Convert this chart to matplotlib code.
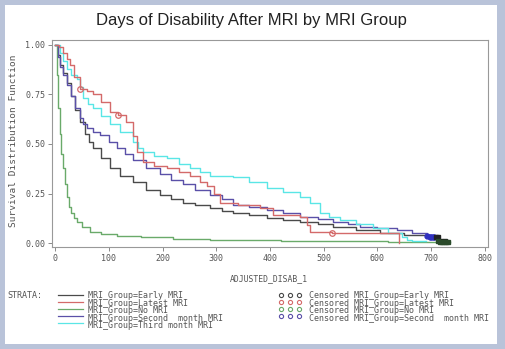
import matplotlib
matplotlib.use("Agg")
import matplotlib.pyplot as plt
from matplotlib.patches import Rectangle
from matplotlib.lines import Line2D

# ---- data ----
early_t = [0, 5, 10, 15, 22, 30, 38, 46, 55, 63, 71, 85, 102, 120, 145, 170, 195, 215, 238, 260, 288, 310, 332, 360, 394, 425, 456, 490, 518, 560, 605, 650, 700, 712]
early_s = [1.0, 0.95, 0.90, 0.86, 0.81, 0.74, 0.67, 0.61, 0.55, 0.51, 0.48, 0.43, 0.38, 0.34, 0.31, 0.27, 0.24, 0.22, 0.20, 0.19, 0.175, 0.16, 0.15, 0.14, 0.125, 0.115, 0.105, 0.095, 0.08, 0.065, 0.05, 0.04, 0.03, 0.03]

latest_t = [0, 8, 15, 22, 28, 36, 46, 60, 71, 85, 102, 117, 133, 145, 152, 164, 185, 208, 230, 251, 270, 282, 295, 307, 340, 381, 406, 456, 468, 474, 515, 560, 605, 636, 640]
latest_s = [1.0, 0.99, 0.96, 0.93, 0.90, 0.84, 0.78, 0.77, 0.75, 0.71, 0.66, 0.645, 0.61, 0.54, 0.46, 0.41, 0.39, 0.38, 0.36, 0.34, 0.31, 0.29, 0.25, 0.20, 0.19, 0.175, 0.14, 0.133, 0.09, 0.057, 0.052, 0.05, 0.05, 0.05, 0.0]

nomri_t = [0, 3, 6, 9, 12, 15, 18, 22, 26, 30, 35, 40, 50, 65, 85, 115, 160, 220, 288, 350, 420, 500, 560, 620, 680, 735]
nomri_s = [1.0, 0.85, 0.68, 0.55, 0.45, 0.38, 0.30, 0.23, 0.18, 0.15, 0.125, 0.106, 0.08, 0.056, 0.045, 0.038, 0.03, 0.022, 0.017, 0.014, 0.012, 0.01, 0.008, 0.006, 0.005, 0.005]

second_t = [0, 5, 10, 15, 22, 30, 38, 46, 52, 59, 70, 84, 100, 115, 130, 145, 170, 195, 215, 238, 260, 288, 310, 332, 360, 394, 425, 456, 490, 518, 545, 567, 600, 636, 665, 692, 705]
second_s = [1.0, 0.94, 0.89, 0.85, 0.80, 0.74, 0.68, 0.63, 0.60, 0.58, 0.56, 0.545, 0.51, 0.48, 0.45, 0.42, 0.38, 0.35, 0.32, 0.30, 0.27, 0.24, 0.22, 0.19, 0.18, 0.167, 0.15, 0.133, 0.12, 0.108, 0.095, 0.082, 0.075, 0.066, 0.05, 0.04, 0.03]

third_t = [0, 9, 15, 22, 30, 40, 46, 53, 62, 71, 85, 102, 120, 145, 155, 164, 185, 208, 230, 251, 270, 288, 310, 332, 360, 394, 425, 456, 475, 493, 510, 530, 560, 592, 620, 645, 654, 665, 690]
third_s = [1.0, 0.96, 0.92, 0.88, 0.85, 0.83, 0.79, 0.73, 0.70, 0.68, 0.64, 0.60, 0.56, 0.51, 0.48, 0.46, 0.44, 0.43, 0.40, 0.38, 0.36, 0.34, 0.34, 0.335, 0.31, 0.28, 0.26, 0.234, 0.20, 0.15, 0.13, 0.116, 0.095, 0.074, 0.05, 0.03, 0.015, 0.01, 0.01]

cens_latest_t = [46, 117, 515]
cens_latest_s = [0.78, 0.645, 0.052]
cens_second_t = [693, 697, 700, 703, 706]
cens_second_s = [0.035, 0.032, 0.030, 0.030, 0.030]
cens_nomri_t = [712, 716, 720, 724, 728, 732]
cens_nomri_s = [0.008, 0.007, 0.006, 0.005, 0.005, 0.005]
cens_early_t = [708, 712, 718, 725]
cens_early_s = [0.03, 0.03, 0.01, 0.01]

x_ticks = [0, 100, 200, 300, 400, 500, 600, 700, 800]
y_ticks = [0.0, 0.25, 0.5, 0.75, 1.0]
y_ticklabels = ["0.00", "0.25", "0.50", "0.75", "1.00"]

strata_labels = ["MRI_Group=Early MRI", "MRI_Group=Latest MRI", "MRI_Group=No MRI",
                 "MRI_Group=Second  month MRI", "MRI_Group=Third month MRI"]
censor_labels = ["Censored MRI_Group=Early MRI", "Censored MRI_Group=Latest MRI",
                 "Censored MRI_Group=No MRI", "Censored MRI_Group=Second  month MRI"]

c_early = "#4a4a4a"
c_latest = "#d46a6a"
c_nomri = "#6aaa6a"
c_second = "#5a50a8"
c_third = "#5ae6e6"
colors = [c_early, c_latest, c_nomri, c_second, c_third]

W, H = 506, 349
fig = plt.figure(figsize=(W / 100, H / 100), dpi=100)
fig.patch.set_facecolor("#b9c3d9")
fig.patches.append(Rectangle((5 / W, 5 / H), 492 / W, 339 / H, transform=fig.transFigure,
                             facecolor="white", edgecolor="none", zorder=-10))

fig.text(251 / W, 1 - 20 / H, "Days of Disability After MRI by MRI Group", ha="center", va="center",
         fontsize=12, family="Liberation Sans", color="#222222")

ax = fig.add_axes([52 / W, 1 - 247 / H, 436 / W, 207 / H])
ax.set_zorder(2)
ax.set_facecolor("white")
ax.set_xlim(-5.6, 805.6)
ax.set_ylim(-0.02, 1.025)

ax.plot(early_t, early_s, drawstyle="steps-post", color=c_early, lw=1.0)
ax.plot(nomri_t, nomri_s, drawstyle="steps-post", color=c_nomri, lw=1.0)
ax.plot(second_t, second_s, drawstyle="steps-post", color=c_second, lw=1.0)
ax.plot(third_t, third_s, drawstyle="steps-post", color=c_third, lw=1.0)
ax.plot(latest_t, latest_s, drawstyle="steps-post", color=c_latest, lw=1.0)

ax.plot(cens_latest_t, cens_latest_s, "o", mfc="none", mec=c_latest, ms=4, mew=0.9)
ax.plot(cens_second_t, cens_second_s, "o", mfc="#3030c0", mec="#3030c0", ms=3.5)
ax.plot(cens_early_t, cens_early_s, "s", mfc="#222222", mec="#222222", ms=3)
ax.plot(cens_nomri_t, cens_nomri_s, "s", mfc="#2a4a2a", mec="#2a4a2a", ms=3)

ax.set_xticks(x_ticks)
ax.set_xticklabels([str(v) for v in x_ticks])
ax.set_yticks(y_ticks)
ax.set_yticklabels(y_ticklabels)
mono = "DejaVu Sans Mono"
for lab in ax.get_xticklabels() + ax.get_yticklabels():
    lab.set_family(mono)
    lab.set_fontsize(6)
    lab.set_color("#555555")
ax.tick_params(direction="out", length=3, width=0.6, color="#777777", pad=2)
for sp in ax.spines.values():
    sp.set_color("#999999")
    sp.set_linewidth(0.8)

fig.text(14 / W, 1 - 141 / H, "Survival Distribution Function", rotation=90, ha="center", va="center",
         fontsize=6.8, family=mono, color="#555555")
fig.text(269 / W, 1 - 279 / H, "ADJUSTED_DISAB_1", ha="center", va="center",
         fontsize=5.9, family=mono, color="#555555")

# legend
fig.text(7 / W, 1 - 295 / H, "STRATA:", ha="left", va="center", fontsize=6, family=mono, color="#555555")
row_y = [295, 302, 309, 316, 323]
for i, col in enumerate(colors):
    yy = 1 - row_y[i] / H
    fig.lines.append(Line2D([58 / W, 83 / W], [yy, yy], transform=fig.transFigure, color=col, lw=0.9))
for i in range(len(censor_labels)):
    yy = 1 - row_y[i] / H
    for xx in [281, 290, 299]:
        fig.lines.append(Line2D([xx / W], [yy], transform=fig.transFigure, marker="o", mfc="none",
                                mec=colors[i], ms=3, mew=0.8))
fig.text(88 / W, 1 - 291.5 / H, "\n".join(strata_labels), ha="left", va="top", fontsize=6.0,
         family=mono, color="#555555", linespacing=0.78)
fig.text(309 / W, 1 - 291.5 / H, "\n".join(censor_labels), ha="left", va="top", fontsize=6.0,
         family=mono, color="#555555", linespacing=0.78)

fig.savefig("out.png", dpi=100, facecolor=fig.get_facecolor())
